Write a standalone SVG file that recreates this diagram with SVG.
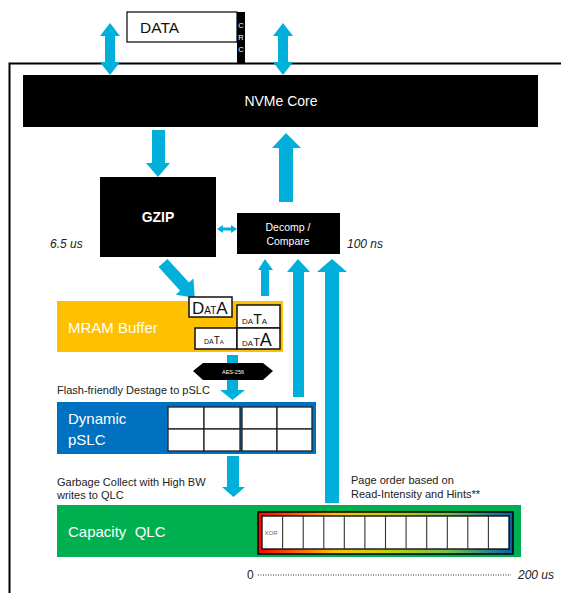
<svg xmlns="http://www.w3.org/2000/svg" width="561" height="593" viewBox="0 0 561 593">
<style>
text{font-family:"Liberation Sans",Arial,sans-serif}
.arr{fill:#00B0DA}
.wt{fill:#fff}
.lbl{font-size:11px;fill:#222}
.it{font-style:italic;font-size:12px;fill:#222}
.cell{fill:#fff;stroke:#222;stroke-width:1.3}
.dbox{fill:#fff;stroke:#111;stroke-width:1.5}
</style>
<defs>
<linearGradient id="rb" x1="0" y1="0" x2="1" y2="0">
<stop offset="0" stop-color="#FF0000"/>
<stop offset="0.3" stop-color="#FFC000"/>
<stop offset="0.5" stop-color="#C8D200"/>
<stop offset="0.75" stop-color="#70C050"/>
<stop offset="1" stop-color="#0060B0"/>
</linearGradient>
</defs>
<rect width="561" height="593" fill="#fff"/>
<!-- frame -->
<path d="M9.5 593 V63.5 H561" fill="none" stroke="#000" stroke-width="2"/>

<g id="connectors">
<polygon class="arr" points="110,23 120,36 115,36 115,62 120,62 110,75 100,62 105,62 105,36 100,36"/>
<polygon class="arr" points="283,23 293,36 288,36 288,62 293,62 283,75 273,62 278,62 278,36 273,36"/>
<polygon class="arr" points="152,130 165,130 165,163 170,163 158,177 146,163 152,163"/>
<polygon class="arr" points="286,133 301,148 293,148 293,202 279,202 279,148 272,148"/>
<polygon class="arr" points="217,229 223,225 223,227.5 231,227.5 231,225 237,229 231,233 231,230.5 223,230.5 223,233"/>
<g transform="translate(163,263) rotate(47.6)"><polygon class="arr" points="0,-6 32,-6 32,-12 47,0 32,12 32,6 0,6"/></g>
<polygon class="arr" points="265,259 273,270 269,270 269,296 261,296 261,270 258,270"/>
<polygon class="arr" points="298,259 310,272 304,272 304,397 293,397 293,272 287,272"/>
<polygon class="arr" points="332,259 347,272 339,272 339,503 325,503 325,272 317,272"/>
<polygon class="arr" points="227,355 238,355 238,390 245,390 232.5,400 220,390 227,390"/>
<polygon class="arr" points="227,456 239,456 239,487 245,487 233.5,497 222,487 227,487"/>
</g>

<g id="data-top">
<rect x="127" y="12" width="110" height="30" fill="#fff" stroke="#000" stroke-width="1.2"/>
<text x="140" y="33" font-size="15.5" fill="#111">DATA</text>
<rect x="237" y="12" width="8" height="51" fill="#000"/>
<text x="241" y="28" font-size="7.5" fill="#fff" text-anchor="middle">C</text>
<text x="241" y="40" font-size="7.5" fill="#fff" text-anchor="middle">R</text>
<text x="241" y="52" font-size="7.5" fill="#fff" text-anchor="middle">C</text>
</g>

<g id="nvme">
<rect x="23" y="75" width="515" height="52" fill="#000"/>
<text x="281" y="106" font-size="14" class="wt" text-anchor="middle">NVMe Core</text>
</g>

<g id="gzip">
<rect x="100" y="177" width="116" height="80" fill="#000"/>
<text x="158" y="222" font-size="14" font-weight="bold" class="wt" text-anchor="middle">GZIP</text>
</g>
<text x="50" y="248" class="it">6.5 us</text>

<g id="decomp">
<rect x="237" y="213" width="103" height="41" fill="#000"/>
<text x="288" y="231" font-size="10.5" class="wt" text-anchor="middle">Decomp /</text>
<text x="288" y="245" font-size="10.5" class="wt" text-anchor="middle">Compare</text>
</g>
<text x="347" y="248" class="it">100 ns</text>

<g id="mram">
<rect x="57" y="301" width="226" height="51" fill="#FFC000"/>
<text x="68" y="333" font-size="15" class="wt">MRAM Buffer</text>
<rect class="dbox" x="189" y="297" width="43" height="20"/>
<text x="192" y="314" fill="#111"><tspan font-size="17">D</tspan><tspan font-size="10">AT</tspan><tspan font-size="17">A</tspan></text>
<rect class="dbox" x="237" y="305" width="43" height="23"/>
<text x="242" y="324" fill="#111"><tspan font-size="8">DA</tspan><tspan font-size="14">T</tspan><tspan font-size="8">A</tspan></text>
<rect class="dbox" x="195" y="328" width="42" height="21"/>
<text x="204" y="344" fill="#111"><tspan font-size="7">DA</tspan><tspan font-size="10">T</tspan><tspan font-size="6">A</tspan></text>
<rect class="dbox" x="237" y="328" width="43" height="21"/>
<text x="242" y="346" fill="#111"><tspan font-size="8">DA</tspan><tspan font-size="11">T</tspan><tspan font-size="18">A</tspan></text>
</g>

<g id="aes">
<polygon points="193,371 203,363 263,363 273,371 263,380 203,380" fill="#000"/>
<text x="233" y="373.5" font-size="5.5" class="wt" text-anchor="middle">AES-256</text>
</g>
<text x="57" y="394" class="lbl">Flash-friendly Destage to pSLC</text>

<g id="pslc">
<rect x="57" y="402" width="259" height="52" fill="#0070C0"/>
<text x="68" y="424" font-size="15" class="wt">Dynamic</text>
<text x="68" y="445" font-size="15" class="wt">pSLC</text>
<rect class="cell" x="168" y="407" width="36" height="22"/>
<rect class="cell" x="204" y="407" width="36" height="22"/>
<rect class="cell" x="168" y="429" width="36" height="22"/>
<rect class="cell" x="204" y="429" width="36" height="22"/>
<rect class="cell" x="242" y="407" width="35" height="22"/>
<rect class="cell" x="277" y="407" width="35" height="22"/>
<rect class="cell" x="242" y="429" width="35" height="22"/>
<rect class="cell" x="277" y="429" width="35" height="22"/>
</g>

<text x="57" y="486" class="lbl">Garbage Collect with High BW</text>
<text x="57" y="499" class="lbl">writes to QLC</text>
<text x="351" y="484" class="lbl">Page order based on</text>
<text x="351" y="498" class="lbl">Read-Intensity and Hints**</text>

<g id="qlc">
<rect x="57" y="505" width="464" height="52" fill="#00B050"/>
<text x="68" y="537" font-size="15" class="wt" xml:space="preserve">Capacity  QLC</text>
<rect x="258" y="512" width="255" height="42" fill="url(#rb)" stroke="#000" stroke-width="1.5"/>
<rect x="262" y="516" width="247" height="33" fill="#fff" stroke="#000" stroke-width="1.3"/>
<g fill="none" stroke="#333" stroke-width="1.1">
<path d="M282.6 516V549M303.2 516V549M323.8 516V549M344.3 516V549M364.9 516V549M385.5 516V549M406.1 516V549M426.7 516V549M447.3 516V549M467.8 516V549M488.4 516V549"/>
</g>
<text x="264.5" y="535" font-size="6" fill="#666">XOR</text>
</g>

<g id="timeline">
<text x="247" y="579" font-size="12" fill="#222">0</text>
<line x1="258" y1="575" x2="511" y2="575" stroke="#333" stroke-width="1.2" stroke-dasharray="1,1.5"/>
<text x="518" y="579" class="it">200 us</text>
</g>
</svg>
